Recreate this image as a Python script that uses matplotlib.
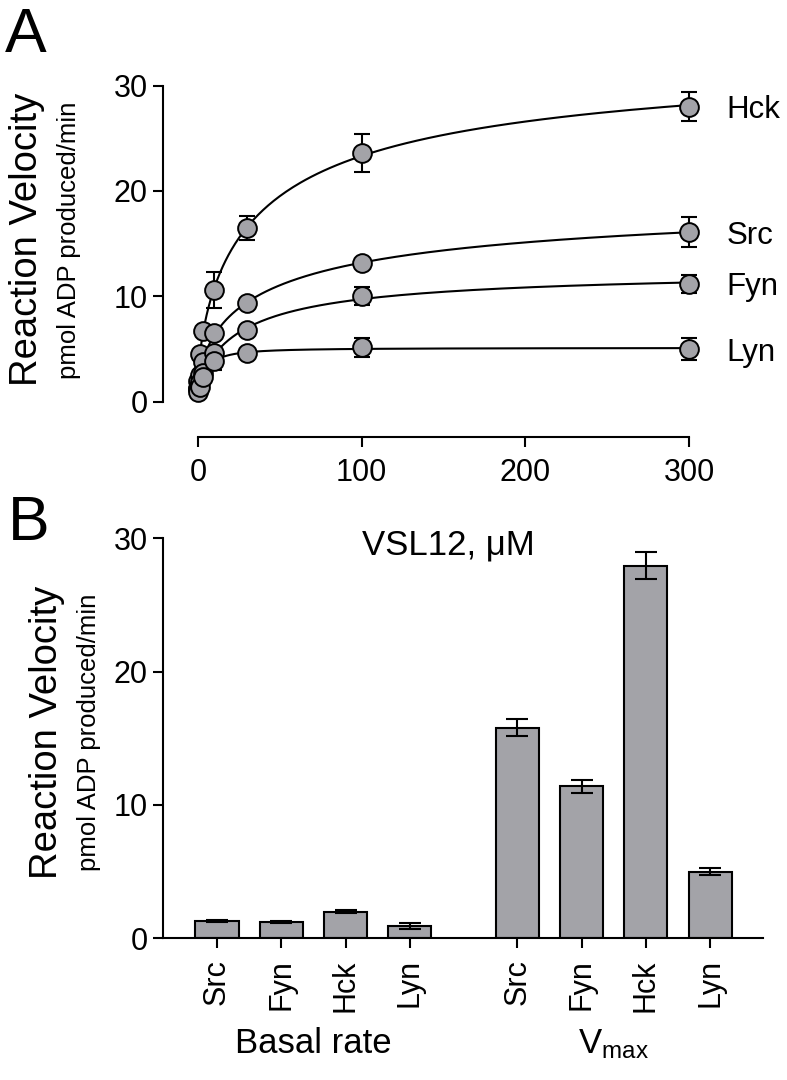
import numpy as np
import matplotlib
matplotlib.use("Agg")
import matplotlib.pyplot as plt
import matplotlib.transforms as mtransforms

plt.rcParams['font.family'] = ['Liberation Sans', 'DejaVu Sans']
plt.rcParams['mathtext.default'] = 'regular'

# ---- data, panel A (VSL12 titration) ----
conc = [0, 1, 3, 10, 30, 100, 300]
kinases = ['Hck', 'Src', 'Fyn', 'Lyn']
vel_hck = [2.0, 4.5, 6.7, 10.6, 16.5, 23.6, 28.0]
vel_src = [1.3, 2.6, 3.8, 6.5, 9.4, 13.2, 16.1]
vel_fyn = [1.2, 1.9, 2.7, 4.6, 6.8, 10.0, 11.2]
vel_lyn = [0.9, 1.4, 2.4, 3.9, 4.6, 5.2, 5.0]
err_hck = [0.2, 0.3, 0.4, 1.7, 1.1, 1.8, 1.4]
err_src = [0.1, 0.2, 0.3, 0.3, 0.3, 0.3, 1.4]
err_fyn = [0.1, 0.2, 0.2, 0.3, 0.3, 0.85, 0.85]
err_lyn = [0.1, 0.2, 0.2, 0.9, 0.3, 0.9, 1.05]

# ---- data, panel B ----
bar_labels = ['Src', 'Fyn', 'Hck', 'Lyn']
basal = [1.3, 1.25, 2.0, 0.92]
basal_err = [0.05, 0.07, 0.1, 0.2]
vmax = [15.8, 11.4, 27.95, 5.0]
vmax_err = [0.65, 0.5, 1.0, 0.25]

GRAY = '#a3a3a8'
LW = 1.5


def fit_curve(x, y):
    # basal + V*x^h/(K^h+x^h), grid over K,h, linear lstsq for basal,V
    x = np.asarray(x, float)
    y = np.asarray(y, float)
    best = None
    for K in np.logspace(-1, 3, 121):
        for h in np.linspace(0.3, 1.5, 41):
            f = x**h / (K**h + x**h)
            A = np.column_stack([np.ones_like(x), f])
            coef = np.linalg.lstsq(A, y, rcond=None)[0]
            sse = np.sum((A @ coef - y)**2)
            if best is None or sse < best[0]:
                best = (sse, coef[0], coef[1], K, h)
    return best[1:]


fig = plt.figure(figsize=(7.87, 10.8), dpi=100)

# ---------------- panel A ----------------
axA = fig.add_axes([0.2071, 0.5954, 0.6893, 0.3352])
axA.set_xlim(-21.4, 310)
axA.set_ylim(-3.32, 31)

xs = np.concatenate([[0], np.logspace(-3, np.log10(300), 500)])
series = [(vel_hck, err_hck), (vel_src, err_src), (vel_fyn, err_fyn), (vel_lyn, err_lyn)]
for name, (v, e) in zip(kinases, series):
    b, V, K, h = fit_curve(conc, v)
    axA.plot(xs, b + V * xs**h / (K**h + xs**h), color='black', lw=LW, zorder=2)
    axA.errorbar(conc, v, yerr=e, fmt='none', ecolor='black', elinewidth=LW,
                 capsize=6, capthick=LW, zorder=3)
    axA.plot(conc, v, 'o', ms=13.5, mfc=GRAY, mec='black', mew=1.4, zorder=4, clip_on=False)
    axA.annotate(name, xy=(conc[-1], v[-1]), xytext=(27, 0), textcoords='offset points',
                 ha='left', va='center_baseline', fontsize=22.5)

axA.spines['top'].set_visible(False)
axA.spines['right'].set_visible(False)
axA.spines['left'].set_bounds(0, 30)
axA.spines['bottom'].set_bounds(0, 300)
for s in ['left', 'bottom']:
    axA.spines[s].set_linewidth(LW)
axA.set_xticks([0, 100, 200, 300])
axA.set_yticks([0, 10, 20, 30])
axA.tick_params(labelsize=22, width=LW, length=7)
axA.tick_params(axis='x', pad=8)
axA.tick_params(axis='y', pad=4)

fig.text(448 / 787, 1 - 545 / 1080, 'VSL12, μM', ha='center', va='center', fontsize=25)
fig.text(5 / 787, 1 - 52 / 1080, 'A', ha='left', va='baseline', fontsize=45)
fig.text(27 / 787, 1 - 239 / 1080, 'Reaction Velocity', rotation=90, ha='center', va='center', fontsize=27.5)
fig.text(69 / 787, 1 - 240 / 1080, 'pmol ADP produced/min', rotation=90, ha='center', va='center', fontsize=18.5)

# ---------------- panel B ----------------
axB = fig.add_axes([0.2071, 0.1312, 0.7624, 0.3802])
pos_basal = np.arange(4)
pos_vmax = np.arange(4) + 4.67
axB.bar(pos_basal, basal, width=0.67, color=GRAY, edgecolor='black', linewidth=LW, zorder=2)
axB.bar(pos_vmax, vmax, width=0.67, color=GRAY, edgecolor='black', linewidth=LW, zorder=2)
axB.errorbar(pos_basal, basal, yerr=basal_err, fmt='none', ecolor='black', elinewidth=LW,
             capsize=8, capthick=LW, zorder=3)
axB.errorbar(pos_vmax, vmax, yerr=vmax_err, fmt='none', ecolor='black', elinewidth=LW,
             capsize=8, capthick=LW, zorder=3)
axB.set_xlim(-0.84, 8.49)
axB.set_ylim(0, 30.8)
axB.spines['top'].set_visible(False)
axB.spines['right'].set_visible(False)
axB.spines['left'].set_bounds(0, 30)
for s in ['left', 'bottom']:
    axB.spines[s].set_linewidth(LW)
axB.set_yticks([0, 10, 20, 30])
axB.set_xticks(np.concatenate([pos_basal, pos_vmax]))
axB.set_xticklabels(bar_labels + bar_labels, rotation=90)
axB.tick_params(labelsize=22, width=LW, length=7)
axB.tick_params(axis='x', pad=8)
axB.tick_params(axis='y', pad=4)

trans = mtransforms.blended_transform_factory(axB.transData, fig.transFigure)
axB.text(pos_basal.mean(), 1 - 1053 / 1080, 'Basal rate', transform=trans,
         ha='center', va='baseline', fontsize=25)
axB.text(pos_vmax.mean(), 1 - 1053 / 1080, r'$V_{max}$', transform=trans,
         ha='center', va='baseline', fontsize=25)

fig.text(8 / 787, 1 - 540 / 1080, 'B', ha='left', va='baseline', fontsize=45)
fig.text(47.5 / 787, 1 - 732 / 1080, 'Reaction Velocity', rotation=90, ha='center', va='center', fontsize=27.5)
fig.text(89 / 787, 1 - 732 / 1080, 'pmol ADP produced/min', rotation=90, ha='center', va='center', fontsize=18.5)

fig.savefig('out.png', dpi=100)
